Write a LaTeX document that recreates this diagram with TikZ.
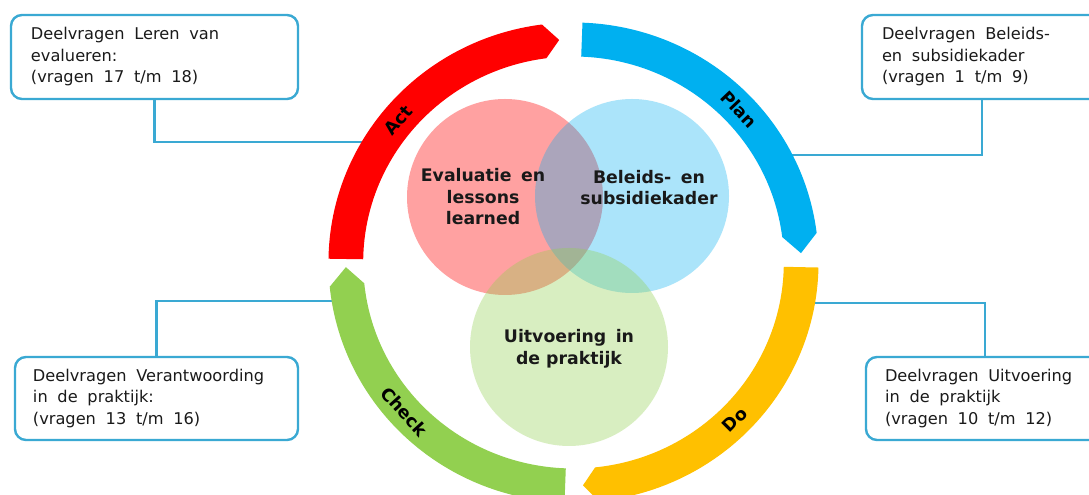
\documentclass[tikz,border=0pt]{standalone}
\usepackage{fontspec}
\setmainfont{DejaVu Sans}
\definecolor{ringred}{HTML}{FF0000}
\definecolor{ringblue}{HTML}{00B0F0}
\definecolor{ringyellow}{HTML}{FFC000}
\definecolor{ringgreen}{HTML}{92D050}
\definecolor{linkblue}{HTML}{3AA9D3}
\definecolor{txt}{HTML}{1A1A1A}
\newcommand\widesp{\spaceskip=0.6em plus 0.1em\relax}
\newcommand\midsp{\spaceskip=0.55em plus 0.1em\relax}
\tikzset{
  qbox/.style={draw=linkblue, line width=2.4bp, rounded corners=11bp, fill=white,
    inner xsep=20bp, inner ysep=0pt, minimum height=84bp, align=left,
    font=\fontsize{16.2bp}{21.5bp}\selectfont, text=txt},
  link/.style={draw=linkblue, line width=2.4bp},
  venntext/.style={align=center, font=\bfseries\fontsize{17.3bp}{21.5bp}\selectfont, text=black!90},
  ringlbl/.style={font=\bfseries\fontsize{17.5bp}{19bp}\selectfont, text=black, inner sep=0pt}
}
\begin{document}
\begin{tikzpicture}[x=1bp,y=1bp]
\useasboundingbox (0,0) rectangle (1089,495);
\clip (0,0) rectangle (1089,495);
\fill[white] (0,0) rectangle (1089,495);

% Venn circles
\fill[ringred, fill opacity=0.37] (505,298) circle[radius=98];
\fill[ringblue, fill opacity=0.33] (632,299) circle[radius=97];
\fill[ringgreen, fill opacity=0.35] (569,148) circle[radius=99];

\node[venntext] (tev) at (483,298) {\midsp Evaluatie en\\lessons\\learned};
\node[venntext] (tbe) at (649,307.5) {\midsp Beleids- en\\subsidiekader};
\node[venntext] (tui) at (569,146) {\midsp Uitvoering in\\de praktijk};

% boxes
\node[qbox, text width=247bp] (b1) at (154.5,438) {\widesp Deelvragen Leren van\\evalueren:\\(vragen 17 t/m 18)};
\node[qbox, text width=200bp] (b2) at (982,438) {\widesp Deelvragen Beleids-\\en subsidiekader\\(vragen 1 t/m 9)};
\node[qbox, text width=247bp, inner xsep=18bp, minimum height=83bp] (b3) at (156.5,96.5) {\widesp Deelvragen Verantwoording\\in de praktijk:\\(vragen 13 t/m 16)};
\node[qbox, text width=200bp, inner xsep=19bp, minimum height=83bp] (b4) at (985,96.5) {\widesp Deelvragen Uitvoering\\in de praktijk\\(vragen 10 t/m 12)};

% connector ends (inside the ring band)
\coordinate (c1) at (372,353);
\coordinate (c2) at (782,340);
\coordinate (c3) at (345,194);
\coordinate (c4) at (800,192);
\draw[link] (b1.south) |- (c1);
\draw[link] (b2.south) |- (c2);
\draw[link] (b3.north) |- (c3);
\draw[link] (b4.north) |- (c4);

% PDCA ring
\begin{scope}[shift={(573.5,232.5)}, xscale=1.021]
\def\Ro{240}\def\Ri{206}\def\Rm{223}
\fill[ringblue] (87.9:\Ro) arc[start angle=87.9, end angle=7.1, radius=\Ro]
  -- (2.4:\Rm) -- (7.1:\Ri) arc[start angle=7.1, end angle=87.9, radius=\Ri] -- cycle;
\fill[ringyellow] (-1.2:\Ro) arc[start angle=-1.2, end angle=-84.1, radius=\Ro]
  -- (-87.6:\Rm) -- (-84.1:\Ri) arc[start angle=-84.1, end angle=-1.2, radius=\Ri] -- cycle;
\fill[ringgreen] (267.9:\Ro) arc[start angle=267.9, end angle=185.8, radius=\Ro]
  -- (181.2:\Rm) -- (185.8:\Ri) arc[start angle=185.8, end angle=267.9, radius=\Ri] -- cycle;
\fill[ringred] (179.1:\Ro) arc[start angle=179.1, end angle=97.4, radius=\Ro]
  -- (93.6:\Rm) -- (97.4:\Ri) arc[start angle=97.4, end angle=179.1, radius=\Ri] -- cycle;
\node[ringlbl, rotate=-46.6] (lplan) at (43.4:\Rm) {Plan};
\node[ringlbl, rotate=45.1] (ldo) at (-44.9:\Rm) {Do};
\node[ringlbl, rotate=-48] (lcheck) at (222:\Rm) {Check};
\node[ringlbl, rotate=50.3] (lact) at (140.3:\Rm) {Act};
\end{scope}
\end{tikzpicture}
\end{document}
